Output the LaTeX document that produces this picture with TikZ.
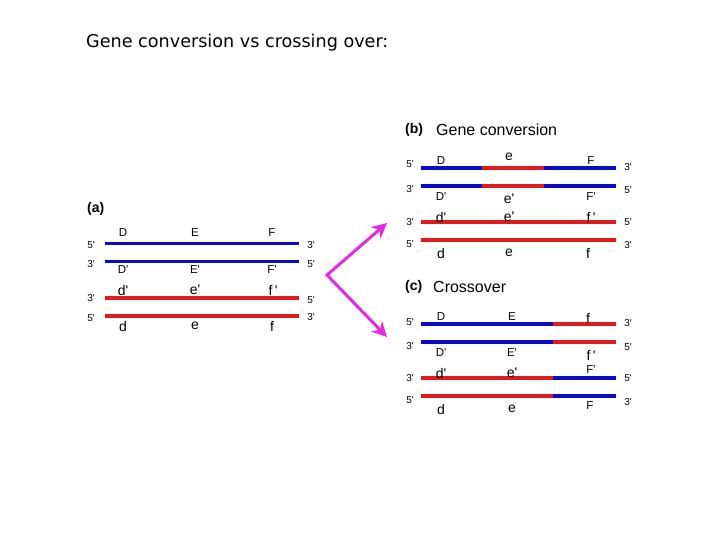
\documentclass[tikz,border=0pt]{standalone}
\usepackage{fontspec}
\setmainfont{Liberation Sans}
\newfontfamily\titlefont{DejaVu Sans}
\usetikzlibrary{arrows.meta}
\definecolor{strandblue}{RGB}{10,10,200}
\definecolor{strandred}{RGB}{222,28,28}
\definecolor{arrowpink}{RGB}{232,40,232}
\newcommand{\apos}{\textquotesingle}

\begin{document}
\begin{tikzpicture}[x=1pt,y=-1pt,
    strand/.style={line width=3.6pt},
    endlbl/.style={font=\fontsize{10}{10}\selectfont,inner sep=0pt},
    caplbl/.style={font=\fontsize{11.5}{11.5}\selectfont,inner sep=0pt},
    lowlbl/.style={font=\fontsize{14}{14}\selectfont,inner sep=0pt},
    head/.style={font=\fontsize{16}{16}\selectfont,inner sep=0pt,anchor=west},
    tag/.style={font=\bfseries\fontsize{14}{14}\selectfont,inner sep=0pt,anchor=west}]
  \useasboundingbox (0,0) rectangle (720,540);
  \node[anchor=west,inner sep=0pt,font=\titlefont\fontsize{17.6}{17.6}\selectfont] (title) at (86,43) {Gene conversion vs crossing over:};

  % (a) the two parental duplexes
  \node[tag] (tagA) at (87,209) {(a)};
  \foreach \n/\y/\c in {1/243.5/strandblue,2/261.5/strandblue,3/298/strandred,4/316/strandred} {
    \coordinate (a\n w) at (105,\y);
    \coordinate (a\n e) at (299,\y);
    \draw[strand,\c] (a\n w) -- (a\n e);
  }
  \foreach \y/\l/\r/\yr in {245/5/3/245,264/3/5/264,298/3/5/300,318/5/3/317} {
    \node[endlbl] (aL\y) at (91,\y) {\l\apos};
    \node[endlbl] (aR\y) at (311,\yr) {\r\apos};
  }
  \foreach \x/\U/\u in {123/D/d,195/E/e,272/F/f} {
    \node[caplbl] (a\U) at (\x,233) {\U};
    \node[caplbl] (a\U p) at (\x,270) {\U\apos};
    \node[lowlbl] (a\u) at (\x,326) {\u};
  }
  \node[lowlbl] (adp) at (123,290) {d\apos};
  \node[lowlbl] (aep) at (195,290) {e\apos};
  \node[lowlbl] (afp) at (273,290) {f\,\apos};

  % arrows to the two outcomes
  \coordinate (fork) at (327,275);
  \coordinate (tipB) at (387,223);
  \coordinate (tipC) at (387,337);
  \draw[arrowpink,line width=3pt,line join=miter,
    {Stealth[length=15pt,width=15pt,inset=5pt]}-{Stealth[length=15pt,width=15pt,inset=5pt]}]
    (tipB) -- (fork) -- (tipC);

  % (b) gene conversion
  \node[tag] (tagB) at (405,130) {(b)};
  \node[head] (headB) at (436,130) {Gene conversion};
  \foreach \n/\y/\c in {1/168/strandblue,2/186/strandblue,3/222/strandred,4/240/strandred} {
    \coordinate (b\n w) at (421,\y);
    \coordinate (b\n e) at (616,\y);
    \draw[strand,\c] (b\n w) -- (b\n e);
  }
  \foreach \n/\y in {1/168,2/186} {
    \coordinate (b\n l) at (482,\y);
    \coordinate (b\n r) at (544,\y);
    \draw[strand,strandred] (b\n l) -- (b\n r);
  }
  \foreach \y/\l/\r/\yr in {164/5/3/167,189/3/5/190,222/3/5/222,244/5/3/245} {
    \node[endlbl] (bL\y) at (410,\y) {\l\apos};
    \node[endlbl] (bR\y) at (628,\yr) {\r\apos};
  }
  \node[caplbl] (bD) at (441,161) {D};
  \node[lowlbl] (be1) at (509,157) {e};
  \node[caplbl] (bF) at (591,161) {F};
  \node[caplbl] (bDp) at (441,197) {D\apos};
  \node[lowlbl] (be2) at (509,199) {e\apos};
  \node[caplbl] (bFp) at (591,197) {F\apos};
  \node[lowlbl] (bdp) at (441,217) {d\apos};
  \node[lowlbl] (be3) at (509,217) {e\apos};
  \node[lowlbl] (bfp) at (591,217) {f\,\apos};
  \node[lowlbl] (bd) at (441,253) {d};
  \node[lowlbl] (be4) at (509,253) {e};
  \node[lowlbl] (bf) at (588,253) {f};

  % (c) crossover
  \node[tag] (tagC) at (405,287) {(c)};
  \node[head] (headC) at (433,287) {Crossover};
  \foreach \n/\y/\c/\d in {1/324/strandblue/strandred,2/342/strandblue/strandred,3/378/strandred/strandblue,4/396/strandred/strandblue} {
    \coordinate (c\n w) at (421,\y);
    \coordinate (c\n x) at (553,\y);
    \coordinate (c\n e) at (616,\y);
    \draw[strand,\c] (c\n w) -- (c\n x);
    \draw[strand,\d] (c\n x) -- (c\n e);
  }
  \foreach \y/\l/\r/\yr in {322/5/3/323,346/3/5/347,378/3/5/378,400/5/3/402} {
    \node[endlbl] (cL\y) at (410,\y) {\l\apos};
    \node[endlbl] (cR\y) at (628,\yr) {\r\apos};
  }
  \node[caplbl] (cD) at (441,317) {D};
  \node[caplbl] (cE) at (512,317) {E};
  \node[lowlbl] (cf) at (588,318) {f};
  \node[caplbl] (cDp) at (441,353) {D\apos};
  \node[caplbl] (cEp) at (512,353) {E\apos};
  \node[lowlbl] (cfp) at (591,355) {f\,\apos};
  \node[lowlbl] (cdp) at (441,373) {d\apos};
  \node[lowlbl] (cep) at (512,373) {e\apos};
  \node[caplbl] (cFp) at (591,370) {F\apos};
  \node[lowlbl] (cd) at (441,409) {d};
  \node[lowlbl] (ce) at (512,409) {e};
  \node[caplbl] (cF) at (590,406) {F};
\end{tikzpicture}
\end{document}
